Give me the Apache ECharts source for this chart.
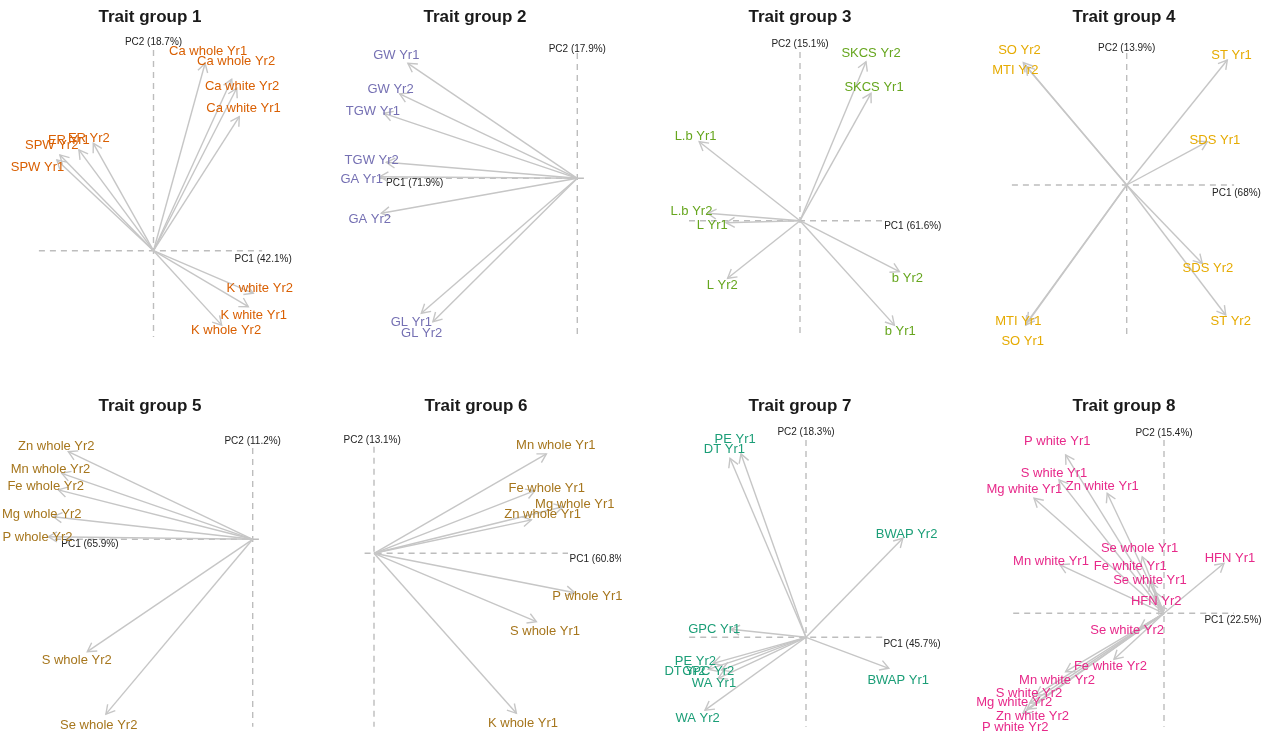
<!DOCTYPE html>
<html>
<head>
<meta charset="utf-8">
<title>PCA biplots of trait groups</title>
<script src="https://cdn.jsdelivr.net/npm/echarts@6/dist/echarts.min.js"></script>
<style>
  html, body { margin: 0; padding: 0; background: #ffffff; }
  #chart { width: 1271px; height: 735px; }
</style>
</head>
<body>
<div id="chart"></div>
<script>
// ---- Data: variable loadings on PC1 / PC2 for each trait group ----
const groupTitles = ['Trait group 1', 'Trait group 2', 'Trait group 3', 'Trait group 4',
                     'Trait group 5', 'Trait group 6', 'Trait group 7', 'Trait group 8'];
const pc1Variance = [42.1, 71.9, 61.6, 68, 65.9, 60.8, 45.7, 22.5];
const pc2Variance = [18.7, 17.9, 15.1, 13.9, 11.2, 13.1, 18.3, 15.4];

const group1Traits = ['Ca whole Yr1', 'Ca whole Yr2', 'Ca white Yr2', 'Ca white Yr1', 'ER Yr1', 'ER Yr2',
                      'SPW Yr2', 'SPW Yr1', 'K white Yr2', 'K white Yr1', 'K whole Yr2'];
const group1PC1 = [0.258, 0.391, 0.416, 0.429, -0.373, -0.301, -0.468, -0.483, 0.499, 0.474, 0.341];
const group1PC2 = [0.937, 0.857, 0.812, 0.670, 0.504, 0.537, 0.479, 0.454, -0.213, -0.280, -0.372];

const group2Traits = ['GW Yr1', 'GW Yr2', 'TGW Yr1', 'TGW Yr2', 'GA Yr1', 'GA Yr2', 'GL Yr1', 'GL Yr2'];
const group2PC1 = [-0.847, -0.888, -0.967, -0.955, -0.988, -0.980, -0.780, -0.722];
const group2PC2 = [0.575, 0.422, 0.325, 0.080, 0.008, -0.175, -0.675, -0.717];

const group3Traits = ['SKCS Yr2', 'SKCS Yr1', 'L.b Yr1', 'L.b Yr2', 'L Yr1', 'L Yr2', 'b Yr2', 'b Yr1'];
const group3PC1 = [0.330, 0.355, -0.504, -0.462, -0.370, -0.362, 0.497, 0.472];
const group3PC2 = [0.795, 0.637, 0.395, 0.037, -0.010, -0.288, -0.255, -0.522];

const group4Traits = ['SO Yr2', 'MTI Yr2', 'ST Yr1', 'SDS Yr1', 'SDS Yr2', 'ST Yr2', 'MTI Yr1', 'SO Yr1'];
const group4PC1 = [-0.517, -0.505, 0.503, 0.403, 0.378, 0.495, -0.497, -0.505];
const group4PC2 = [0.612, 0.595, 0.625, 0.217, -0.392, -0.650, -0.684, -0.700];

const group5Traits = ['Zn whole Yr2', 'Mn whole Yr2', 'Fe whole Yr2', 'Mg whole Yr2', 'P whole Yr2',
                      'S whole Yr2', 'Se whole Yr2'];
const group5PC1 = [-0.922, -0.955, -0.972, -0.997, -1.022, -0.827, -0.734];
const group5PC2 = [0.438, 0.330, 0.247, 0.113, 0.013, -0.562, -0.874];

const group6Traits = ['Mn whole Yr1', 'Fe whole Yr1', 'Mg whole Yr1', 'Zn whole Yr1', 'P whole Yr1',
                      'S whole Yr1', 'K whole Yr1'];
const group6PC1 = [0.862, 0.804, 0.945, 0.787, 1.004, 0.812, 0.712];
const group6PC2 = [0.497, 0.313, 0.233, 0.167, -0.197, -0.342, -0.800];

const group7Traits = ['PE Yr1', 'DT Yr1', 'BWAP Yr2', 'GPC Yr1', 'BWAP Yr1', 'PE Yr2', 'DT Yr2',
                      'GPC Yr2', 'WA Yr1', 'WA Yr2'];
const group7PC1 = [-0.325, -0.380, 0.484, -0.375, 0.414, -0.464, -0.489, -0.422, -0.439, -0.505];
const group7PC2 = [0.917, 0.895, 0.495, 0.040, -0.155, -0.130, -0.160, -0.164, -0.205, -0.364];

const group8Traits = ['P white Yr1', 'S white Yr1', 'Zn white Yr1', 'Mg white Yr1', 'Mn white Yr1',
                      'Se whole Yr1', 'Fe white Yr1', 'Se white Yr1', 'HFN Yr2', 'HFN Yr1',
                      'Se white Yr2', 'Fe white Yr2', 'Mn white Yr2', 'S white Yr2', 'Mg white Yr2',
                      'Zn white Yr2', 'P white Yr2'];
const group8PC1 = [-0.492, -0.525, -0.284, -0.650, -0.520, -0.109, -0.070, -0.045, -0.030, 0.300,
                   -0.120, -0.250, -0.492, -0.640, -0.670, -0.685, -0.705];
const group8PC2 = [0.792, 0.667, 0.600, 0.575, 0.242, 0.283, 0.157, 0.107, 0.042, 0.250,
                   -0.074, -0.230, -0.292, -0.409, -0.449, -0.479, -0.499];

// ---- Styling and layout ----
const groupColors = ['#D95F02', '#7570B3', '#66A61E', '#E6AB02', '#A6761D', '#A6761D', '#1B9E77', '#E7298A'];
const ARROW_COLOR = '#c6c6c6';
const AXIS_COLOR = '#bdbdbd';
const FONT = "'Liberation Sans', Arial, Helvetica, sans-serif";
const PX_PER_UNIT = 200;

// Label anchors (loading units) after repelling overlapping names.
const labelPlacement = [
  [[0.273, 0.994], [0.413, 0.944], [0.443, 0.819], [0.450, 0.709], [-0.423, 0.549], [-0.323, 0.559],
   [-0.509, 0.524], [-0.580, 0.414], [0.531, -0.188], [0.501, -0.322], [0.363, -0.400]],
  [[-0.905, 0.612], [-0.934, 0.442], [-1.022, 0.333], [-1.028, 0.088], [-1.078, -0.005], [-1.038, -0.205],
   [-0.830, -0.722], [-0.778, -0.775]],
  [[0.355, 0.837], [0.370, 0.667], [-0.522, 0.420], [-0.543, 0.045], [-0.439, -0.022], [-0.389, -0.322],
   [0.537, -0.288], [0.501, -0.555]],
  [[-0.536, 0.675], [-0.557, 0.575], [0.524, 0.650], [0.441, 0.225], [0.406, -0.417], [0.520, -0.684],
   [-0.542, -0.684], [-0.520, -0.784]],
  [[-0.982, 0.463], [-1.011, 0.350], [-1.035, 0.263], [-1.055, 0.122], [-1.076, 0.010], [-0.880, -0.604],
   [-0.770, -0.929]],
  [[0.909, 0.537], [0.864, 0.325], [1.004, 0.242], [0.843, 0.192], [1.067, -0.217], [0.855, -0.392],
   [0.745, -0.850]],
  [[-0.354, 0.987], [-0.408, 0.937], [0.503, 0.512], [-0.459, 0.040], [0.461, -0.214], [-0.553, -0.122],
   [-0.605, -0.172], [-0.489, -0.169], [-0.460, -0.230], [-0.542, -0.405]],
  [[-0.534, 0.858], [-0.550, 0.700], [-0.309, 0.633], [-0.698, 0.620], [-0.565, 0.258], [-0.122, 0.325],
   [-0.169, 0.233], [-0.070, 0.163], [-0.039, 0.058], [0.330, 0.272], [-0.184, -0.087], [-0.268, -0.264],
   [-0.535, -0.337], [-0.675, -0.400], [-0.749, -0.447], [-0.657, -0.517], [-0.744, -0.570]]
];

// Panel frames: pixel box, pixel origin, dashed reference-line extents and PC label anchors.
const panelLayout = [
  { box: [0, 25, 317, 330],   origin: [153.5, 250.7], vLine: [1.004, -0.432], hLine: [-0.573, 0.543], pc2At: [0, 1.044],      pc1At: [0.548, -0.042] },
  { box: [318, 25, 317, 330], origin: [577.3, 178.3], vLine: [0.627, -0.794], hLine: [-0.987, 0.039], pc2At: [0, 0.647],      pc1At: [-0.813, -0.025] },
  { box: [636, 25, 317, 330], origin: [800, 220.7],   vLine: [0.844, -0.582], hLine: [-0.555, 0.420], pc2At: [0, 0.884],      pc1At: [0.564, -0.030] },
  { box: [954, 25, 317, 330], origin: [1126.7, 185],  vLine: [0.660, -0.760], hLine: [-0.574, 0.537], pc2At: [0, 0.684],      pc1At: [0.549, -0.039] },
  { box: [0, 415, 317, 320],  origin: [252.7, 539.3], vLine: [0.457, -0.937], hLine: [-0.989, 0.047], pc2At: [0, 0.488],      pc1At: [-0.814, -0.024] },
  { box: [318, 415, 303, 320], origin: [374, 553.3],  vLine: [0.533, -0.867], hLine: [-0.047, 0.970], pc2At: [-0.009, 0.563], pc1At: [0.978, -0.028], pc1Align: 'left', clip: true },
  { box: [636, 415, 317, 320], origin: [806, 637.3],  vLine: [0.987, -0.447], hLine: [-0.584, 0.384], pc2At: [0, 1.025],      pc1At: [0.530, -0.034] },
  { box: [954, 415, 317, 320], origin: [1164, 613.3], vLine: [0.867, -0.567], hLine: [-0.754, 0.350], pc2At: [0, 0.900],      pc1At: [0.345, -0.037] }
];
const titleCenters = [[150, 17], [475, 17], [800, 17], [1124, 17], [150, 406], [476, 406], [800, 406], [1124, 406]];

const groups = [
  [group1Traits, group1PC1, group1PC2],
  [group2Traits, group2PC1, group2PC2],
  [group3Traits, group3PC1, group3PC2],
  [group4Traits, group4PC1, group4PC2],
  [group5Traits, group5PC1, group5PC2],
  [group6Traits, group6PC1, group6PC2],
  [group7Traits, group7PC1, group7PC2],
  [group8Traits, group8PC1, group8PC2]
];

// ---- Build option ----
const grids = [], xAxes = [], yAxes = [], series = [], graphics = [];

panelLayout.forEach(function (p, i) {
  const [L, T, W, H] = p.box;
  const [ox, oy] = p.origin;
  grids.push({ left: L, top: T, width: W, height: H, containLabel: false });
  xAxes.push({ type: 'value', gridIndex: i, show: false,
               min: (L - ox) / PX_PER_UNIT, max: (L + W - ox) / PX_PER_UNIT });
  yAxes.push({ type: 'value', gridIndex: i, show: false,
               min: (oy - T - H) / PX_PER_UNIT, max: (oy - T) / PX_PER_UNIT });

  const [names, pc1, pc2] = groups[i];
  const color = groupColors[i];

  // dashed reference axes with PC titles
  series.push({
    type: 'custom', xAxisIndex: i, yAxisIndex: i, clip: !!p.clip, silent: true, z: 1,
    data: [[0, 0]],
    renderItem: function (params, api) {
      const top = api.coord([0, p.vLine[0]]);
      const bot = api.coord([0, p.vLine[1]]);
      const lft = api.coord([p.hLine[0], 0]);
      const rgt = api.coord([p.hLine[1], 0]);
      const a2 = api.coord(p.pc2At);
      const a1 = api.coord(p.pc1At);
      const dash = { stroke: AXIS_COLOR, lineWidth: 1.4, lineDash: [6, 5] };
      return { type: 'group', children: [
        { type: 'line', shape: { x1: top[0], y1: top[1], x2: bot[0], y2: bot[1] }, style: dash },
        { type: 'line', shape: { x1: lft[0], y1: lft[1], x2: rgt[0], y2: rgt[1] }, style: dash },
        { type: 'text', x: a2[0], y: a2[1], style: { text: 'PC2 (' + pc2Variance[i] + '%)',
            fill: '#222', font: '10px ' + FONT, align: 'center', verticalAlign: 'middle' } },
        { type: 'text', x: a1[0], y: a1[1], style: { text: 'PC1 (' + pc1Variance[i] + '%)',
            fill: '#222', font: '10px ' + FONT, align: p.pc1Align || 'center', verticalAlign: 'middle' } }
      ] };
    }
  });

  // loading arrows
  series.push({
    type: 'custom', xAxisIndex: i, yAxisIndex: i, clip: false, silent: true, z: 2,
    encode: { x: 0, y: 1 },
    data: pc1.map(function (v, j) { return [v, pc2[j]]; }),
    renderItem: function (params, api) {
      const o = api.coord([0, 0]);
      const t = api.coord([api.value(0), api.value(1)]);
      const ang = Math.atan2(t[1] - o[1], t[0] - o[0]);
      const len = 10, spread = Math.PI / 6;
      const h1 = [t[0] - len * Math.cos(ang - spread), t[1] - len * Math.sin(ang - spread)];
      const h2 = [t[0] - len * Math.cos(ang + spread), t[1] - len * Math.sin(ang + spread)];
      const st = { stroke: ARROW_COLOR, lineWidth: 1.4, fill: null };
      return { type: 'group', children: [
        { type: 'line', shape: { x1: o[0], y1: o[1], x2: t[0], y2: t[1] }, style: st },
        { type: 'polyline', shape: { points: [h1, t, h2] }, style: st }
      ] };
    }
  });

  // trait names
  series.push({
    type: 'custom', xAxisIndex: i, yAxisIndex: i, clip: false, silent: true, z: 3,
    data: labelPlacement[i],
    renderItem: function (params, api) {
      const c = api.coord([api.value(0), api.value(1)]);
      return { type: 'text', x: c[0], y: c[1], style: {
        text: names[params.dataIndex], fill: color, font: '13px ' + FONT,
        align: 'center', verticalAlign: 'middle' } };
    }
  });

  graphics.push({ type: 'text', x: titleCenters[i][0], y: titleCenters[i][1], style: {
    text: groupTitles[i], fill: '#1a1a1a', font: 'bold 17px ' + FONT,
    align: 'center', verticalAlign: 'middle' } });
});

const chart = echarts.init(document.getElementById('chart'), null, { renderer: 'canvas' });
chart.setOption({
  animation: false,
  backgroundColor: '#ffffff',
  grid: grids,
  xAxis: xAxes,
  yAxis: yAxes,
  series: series,
  graphic: graphics
});
</script>
</body>
</html>
